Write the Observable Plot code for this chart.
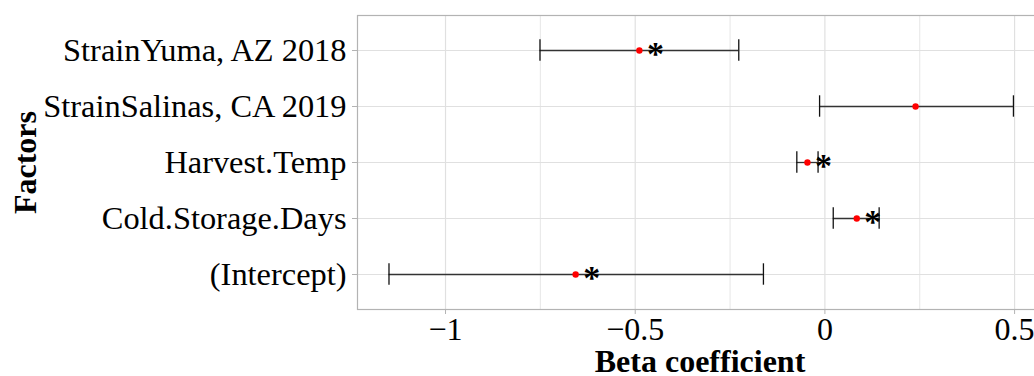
<!DOCTYPE html>
<html>
<head>
<meta charset="utf-8">
<script src="https://cdn.jsdelivr.net/npm/d3@7"></script>
<script src="https://cdn.jsdelivr.net/npm/@observablehq/plot@0.6"></script>
<style>
  html, body { margin: 0; padding: 0; background: #fff; overflow: hidden; }
  #chart svg { display: block; }
</style>
</head>
<body>
<div id="chart"></div>
<script>
// ---- data ----
const factors = ["StrainYuma, AZ 2018", "StrainSalinas, CA 2019", "Harvest.Temp", "Cold.Storage.Days", "(Intercept)"];
const estimates = [-0.489, 0.239, -0.046, 0.084, -0.657];
const lowers    = [-0.751, -0.014, -0.074, 0.022, -1.149];
const uppers    = [-0.227, 0.497, -0.018, 0.143, -0.162];
const stars     = ["*", "", "*", "*", "*"];
const xTicks = [-1, -0.5, 0, 0.5];
const xTickLabels = ["\u22121", "\u22120.5", "0", "0.5"];
const xMinor = [-0.75, -0.25, 0.25];
const xLabel = "Beta coefficient";
const yLabel = "Factors";

const rows = factors.map((f, i) => ({factor: f, est: estimates[i], lo: lowers[i], hi: uppers[i], star: stars[i]}));
const font = "'Liberation Serif', 'Times New Roman', serif";
const capInset = 17.3;

const chart = Plot.plot({
  width: 1034,
  height: 376,
  marginLeft: 357,
  marginRight: 0,
  marginTop: 15,
  marginBottom: 67,
  style: {fontFamily: font, fontSize: "32px", color: "#000", background: "#fff"},
  x: {domain: [-1.232, 0.5525]},
  y: {type: "band", domain: factors, paddingInner: 0, paddingOuter: 0.1},
  marks: [
    Plot.ruleX(xMinor, {stroke: "#e4e4e4", strokeWidth: 0.9}),
    Plot.ruleX(xTicks, {stroke: "#e0e0e0", strokeWidth: 1.2}),
    Plot.ruleY(factors, {stroke: "#e0e0e0", strokeWidth: 1.2}),
    Plot.frame({stroke: "#b3b3b3", strokeWidth: 1.2, insetRight: -3}),
    Plot.axisX({ticks: xTicks, tickFormat: d => xTickLabels[xTicks.indexOf(d)], tickSize: 5, tickPadding: 3,
                stroke: "#b3b3b3", fill: "#000", fontSize: 32, label: null}),
    Plot.axisY({tickSize: 5, tickPadding: 6, stroke: "#b3b3b3", fill: "#000", fontSize: 32.4, label: null}),
    Plot.ruleY(rows, {y: "factor", x1: "lo", x2: "hi", stroke: "#333", strokeWidth: 1.3}),
    Plot.tickX(rows, {x: "lo", y: "factor", insetTop: capInset, insetBottom: capInset, stroke: "#111", strokeWidth: 1.3}),
    Plot.tickX(rows, {x: "hi", y: "factor", insetTop: capInset, insetBottom: capInset, stroke: "#111", strokeWidth: 1.3}),
    Plot.dot(rows, {x: "est", y: "factor", r: 3.2, fill: "red", stroke: "none"}),
    Plot.text(rows.filter(d => d.star), {x: "est", y: "factor", text: "star", dx: 16, dy: 4,
                fontSize: 34, fontWeight: "bold", fill: "#000"}),
    Plot.text([xLabel], {text: d => d, frameAnchor: "bottom", lineAnchor: "bottom", dy: 62, dx: 4,
                fontSize: 32, fontWeight: "bold", fill: "#000"}),
    Plot.text([yLabel], {text: d => d, frameAnchor: "left", textAnchor: "middle", lineAnchor: "middle", rotate: -90, dx: -332,
                fontSize: 32, fontWeight: "bold", fill: "#000"})
  ]
});
document.getElementById("chart").append(chart);
</script>
</body>
</html>
